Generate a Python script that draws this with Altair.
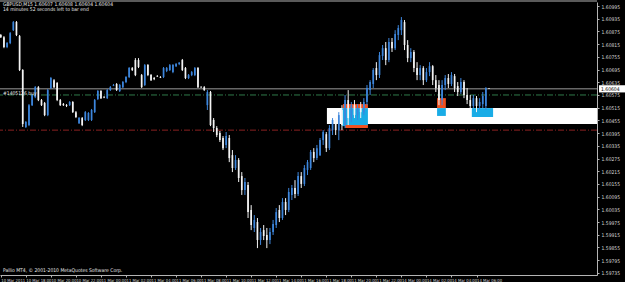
import altair as alt
import pandas as pd

# ---------------- data ----------------
OPEN = [1.60858,1.60848,1.60801,1.60820,1.60881,1.60919,1.60853,1.60693,1.60424,1.60433,
        1.60527,1.60565,1.60612,1.60551,1.60537,1.60480,1.60608,1.60645,1.60631,1.60551,
        1.60532,1.60527,1.60527,1.60542,1.60494,1.60442,1.60466,1.60457,1.60457,1.60457,
        1.60494,1.60556,1.60594,1.60565,1.60560,1.60598,1.60619,1.60627,1.60594,1.60612,
        1.60636,1.60660,1.60702,1.60740,1.60740,1.60669,1.60622,1.60716,1.60669,1.60655,
        1.60664,1.60660,1.60660,1.60688,1.60693,1.60683,1.60711,1.60721,1.60740,1.60702,
        1.60655,1.60669,1.60669,1.60702,1.60612,1.60612,1.60527,1.60589,
        1.60457,1.60419,1.60395,1.60372,1.60339,1.60372,
        1.60291,1.60230,1.60268,1.60192,1.60126,1.60150,1.60032,1.59947,1.59975,1.59890,
        1.59937,1.59914,1.59890,1.59928,1.59961,1.60032,1.59994,1.60070,1.60032,1.60103,
        1.60136,1.60107,1.60192,1.60155,1.60221,1.60230,1.60306,1.60277,
        1.60291,1.60362,1.60390,1.60324,1.60409,1.60457,1.60409,1.60504,1.60433,1.60551,
        1.60466,1.60527,1.60480,1.60513,1.60494,1.60542,1.60598,1.60627,1.60702,1.60669,
        1.60759,1.60796,1.60740,1.60825,1.60796,1.60858,1.60881,1.60919,1.60811,1.60749,
        1.60778,1.60702,1.60669,1.60702,1.60645,1.60683,1.60711,1.60645,1.60622,1.60551,
        1.60622,1.60655,1.60627,1.60664,1.60617,1.60589,1.60636,1.60575,1.60551,1.60523,
        1.60560,1.60523,1.60532,1.60523,
        1.60607]
HIGH = [1.60863,1.60853,1.60825,1.60872,1.60924,1.60924,1.60858,1.60697,1.60452,1.60532,
        1.60579,1.60617,1.60617,1.60556,1.60542,1.60603,1.60660,1.60650,1.60636,1.60556,
        1.60537,1.60532,1.60546,1.60546,1.60499,1.60471,1.60471,1.60499,1.60494,1.60509,
        1.60556,1.60598,1.60598,1.60570,1.60603,1.60617,1.60627,1.60631,1.60627,1.60641,
        1.60664,1.60707,1.60707,1.60749,1.60749,1.60674,1.60721,1.60721,1.60674,1.60660,
        1.60669,1.60664,1.60707,1.60707,1.60721,1.60721,1.60726,1.60730,1.60745,1.60707,
        1.60674,1.60688,1.60707,1.60707,1.60617,1.60617,1.60598,1.60594,
        1.60466,1.60428,1.60405,1.60381,1.60400,1.60386,
        1.60315,1.60291,1.60277,1.60211,1.60183,1.60164,1.60055,1.60008,1.59994,1.59947,
        1.59961,1.59947,1.59947,1.59985,1.60041,1.60055,1.60088,1.60088,1.60136,1.60150,
        1.60173,1.60211,1.60211,1.60244,1.60268,1.60315,1.60324,1.60339,
        1.60372,1.60409,1.60400,1.60433,1.60466,1.60466,1.60494,1.60527,1.60575,1.60598,
        1.60542,1.60551,1.60532,1.60542,1.60560,1.60622,1.60645,1.60702,1.60730,1.60778,
        1.60811,1.60825,1.60844,1.60844,1.60881,1.60905,1.60943,1.60929,1.60834,1.60796,
        1.60787,1.60730,1.60716,1.60711,1.60702,1.60730,1.60716,1.60669,1.60645,1.60645,
        1.60669,1.60674,1.60683,1.60674,1.60636,1.60655,1.60645,1.60608,1.60575,1.60575,
        1.60570,1.60560,1.60589,1.60612,
        1.60608]
LOW = [1.60844,1.60796,1.60796,1.60815,1.60877,1.60853,1.60688,1.60424,1.60419,1.60428,
       1.60523,1.60560,1.60546,1.60523,1.60475,1.60475,1.60603,1.60608,1.60546,1.60523,
       1.60523,1.60518,1.60523,1.60490,1.60466,1.60438,1.60428,1.60452,1.60452,1.60452,
       1.60490,1.60551,1.60556,1.60560,1.60556,1.60594,1.60617,1.60594,1.60589,1.60608,
       1.60631,1.60655,1.60688,1.60664,1.60702,1.60608,1.60617,1.60664,1.60641,1.60645,
       1.60660,1.60655,1.60655,1.60683,1.60688,1.60678,1.60707,1.60716,1.60688,1.60650,
       1.60650,1.60664,1.60664,1.60608,1.60608,1.60594,1.60504,1.60428,
       1.60400,1.60376,1.60353,1.60315,1.60324,1.60258,
       1.60211,1.60221,1.60164,1.60103,1.60103,1.59994,1.59937,1.59928,1.59852,1.59867,
       1.59890,1.59852,1.59871,1.59914,1.59947,1.59975,1.59985,1.60008,1.60022,1.60079,
       1.60088,1.60098,1.60136,1.60145,1.60197,1.60221,1.60258,1.60268,
       1.60287,1.60339,1.60306,1.60315,1.60386,1.60386,1.60362,1.60409,1.60419,1.60433,
       1.60447,1.60466,1.60457,1.60466,1.60480,1.60527,1.60575,1.60608,1.60645,1.60655,
       1.60740,1.60716,1.60730,1.60778,1.60787,1.60834,1.60858,1.60787,1.60730,1.60730,
       1.60683,1.60645,1.60645,1.60622,1.60636,1.60664,1.60622,1.60589,1.60527,1.60527,
       1.60598,1.60608,1.60617,1.60589,1.60570,1.60580,1.60560,1.60532,1.60504,1.60513,
       1.60494,1.60504,1.60513,1.60504,
       1.60604]
CLOSE = [1.60848,1.60801,1.60820,1.60867,1.60919,1.60858,1.60693,1.60438,1.60447,1.60527,
         1.60575,1.60612,1.60551,1.60527,1.60480,1.60598,1.60655,1.60612,1.60551,1.60527,
         1.60527,1.60523,1.60542,1.60494,1.60471,1.60466,1.60433,1.60494,1.60490,1.60504,
         1.60551,1.60594,1.60560,1.60563,1.60598,1.60612,1.60622,1.60598,1.60622,1.60636,
         1.60660,1.60702,1.60693,1.60669,1.60707,1.60612,1.60716,1.60669,1.60645,1.60650,
         1.60662,1.60657,1.60702,1.60702,1.60716,1.60716,1.60721,1.60728,1.60693,1.60655,
         1.60669,1.60683,1.60702,1.60612,1.60610,1.60598,1.60589,1.60433,
         1.60419,1.60386,1.60362,1.60324,1.60381,1.60277,
         1.60230,1.60268,1.60183,1.60126,1.60164,1.60022,1.59961,1.59985,1.59890,1.59928,
         1.59909,1.59890,1.59928,1.59966,1.60022,1.59994,1.60070,1.60032,1.60117,1.60136,
         1.60107,1.60192,1.60155,1.60230,1.60258,1.60306,1.60277,1.60324,
         1.60362,1.60400,1.60324,1.60419,1.60457,1.60409,1.60480,1.60433,1.60551,1.60466,
         1.60527,1.60480,1.60513,1.60494,1.60542,1.60608,1.60636,1.60693,1.60669,1.60763,
         1.60796,1.60740,1.60825,1.60796,1.60863,1.60891,1.60929,1.60811,1.60749,1.60778,
         1.60702,1.60669,1.60702,1.60645,1.60683,1.60711,1.60645,1.60608,1.60551,1.60622,
         1.60655,1.60627,1.60669,1.60608,1.60589,1.60636,1.60575,1.60551,1.60523,1.60560,
         1.60523,1.60542,1.60570,1.60607,
         1.60604]

TIME_LABELS = ["10 Mar 2011", "10 Mar 18:00", "10 Mar 20:00", "10 Mar 22:00",
               "11 Mar 00:00", "11 Mar 02:00", "11 Mar 04:00", "11 Mar 06:00",
               "11 Mar 08:00", "11 Mar 10:00", "11 Mar 12:00", "11 Mar 14:00",
               "11 Mar 16:00", "11 Mar 18:00", "11 Mar 20:00", "11 Mar 22:00",
               "14 Mar 00:00", "14 Mar 02:00", "14 Mar 04:00", "14 Mar 06:00"]
TIME_TICK_BARS = [0, 8, 16, 24, 32, 40, 48, 56, 64, 72, 80, 88, 96, 104, 112, 120,
                  128, 136, 144, 152]
PRICE_TICKS = [1.60995, 1.60935, 1.60875, 1.60815, 1.60755, 1.60695, 1.60635,
               1.60575, 1.60515, 1.60455, 1.60395, 1.60335, 1.60275, 1.60215,
               1.60155, 1.60095, 1.60035, 1.59975, 1.59915, 1.59855, 1.59795, 1.59735]

# drawn zones (bar index / price)
ZONE_X0 = [104.2, 109.0, 109.3, 110.0, 139.4, 139.4, 150.5]
ZONE_X1 = [190.5, 117.3, 117.3, 117.3, 142.2, 142.2, 157.3]
ZONE_TOP = [1.60513, 1.60513, 1.60532, 1.60433, 1.60560, 1.60513, 1.60513]
ZONE_BOT = [1.60438, 1.60428, 1.60513, 1.60419, 1.60513, 1.60476, 1.60471]
ZONE_KIND = ["white", "blue", "orange", "orange", "orange", "blue", "blue"]

BID = 1.60604
LEVEL_GREEN = 1.60575
LEVEL_RED = 1.60409

SYMBOL_LINE = "GBPUSD,M15  1.60607 1.60608 1.60604 1.60604"
TIMER_LINE = "14 minutes 52 seconds left to bar end"
COPYRIGHT = "Pallio MT4, © 2001-2010 MetaQuotes Software Corp."
LINE_LABEL = "#1405126 buy"
LINE_LABEL_PRICE = 1.60586

# ---------------- build ----------------
bars = pd.DataFrame({"i": list(range(len(OPEN))), "o": OPEN, "h": HIGH,
                     "l": LOW, "c": CLOSE})
bars["dir"] = ["up" if c >= o else "down" for o, c in zip(OPEN, CLOSE)]

zones = pd.DataFrame({"x0": ZONE_X0, "x1": ZONE_X1, "top": ZONE_TOP,
                      "bot": ZONE_BOT, "kind": ZONE_KIND})

XS = alt.Scale(domain=[-0.26, 190.5], nice=False, zero=False, padding=0)
YS = alt.Scale(domain=[1.59725, 1.61014], nice=False, zero=False, padding=0)
FONT = "Liberation Sans Narrow, DejaVu Sans Condensed, sans-serif"
AXC = "#b4b4b4"

label_arr = "[" + ",".join("'" + t + "'" for t in TIME_LABELS) + "]"

x_axis = alt.Axis(values=TIME_TICK_BARS, labelExpr=label_arr + "[round(datum.value/8)]",
                  labelAlign="left", labelBaseline="top", labelPadding=1,
                  labelFontSize=4.2, labelFont=FONT, labelColor="#d8d8d8",
                  tickSize=2, tickColor=AXC, domainColor=AXC, labelOverlap=False,
                  labelFlush=False, grid=False, title=None)
y_axis = alt.Axis(orient="right", values=PRICE_TICKS, format=".5f",
                  labelFontSize=5, labelFont=FONT, labelColor="#d8d8d8",
                  labelPadding=2, tickSize=2, tickColor=AXC, domainColor=AXC,
                  labelOverlap=False, grid=False, title=None)


def X(field):
    return alt.X(field, type="quantitative", scale=XS, axis=x_axis)


def Y(field):
    return alt.Y(field, type="quantitative", scale=YS, axis=y_axis)


zone_color = alt.Color("kind:N", legend=None,
                       scale=alt.Scale(domain=["white", "blue", "orange"],
                                       range=["#ffffff", "#19ace6", "#f2511f"]))

white_zone = alt.Chart(zones).transform_filter("datum.kind == 'white'").mark_rect().encode(
    x=X("x0"), x2="x1:Q", y=Y("top"), y2="bot:Q", color=zone_color)
color_zones = alt.Chart(zones).transform_filter("datum.kind != 'white'").mark_rect().encode(
    x=X("x0"), x2="x1:Q", y=Y("top"), y2="bot:Q", color=zone_color)

bar_color = alt.Color("dir:N", legend=None,
                      scale=alt.Scale(domain=["up", "down"], range=["#3d86dc", "#f4f4f4"]))
wicks = alt.Chart(bars).mark_rule(strokeWidth=1).encode(
    x=X("i"), y=Y("h"), y2="l:Q", color=bar_color)
bodies = alt.Chart(bars).mark_bar(size=1.7).encode(
    x=X("i"), y=Y("o"), y2="c:Q", color=bar_color)

lv = pd.DataFrame({"p": [BID, LEVEL_GREEN, LEVEL_RED],
                   "kind": ["bid", "green", "red"]})
bid_line = alt.Chart(lv).transform_filter("datum.kind == 'bid'").mark_rule(
    color="#9a9a9a", strokeWidth=1).encode(y=Y("p"))
green_line = alt.Chart(lv).transform_filter("datum.kind == 'green'").mark_rule(
    color="#2f7a4a", strokeWidth=1, strokeDash=[6, 2, 1, 2]).encode(y=Y("p"))
red_line = alt.Chart(lv).transform_filter("datum.kind == 'red'").mark_rule(
    color="#8a2020", strokeWidth=1, strokeDash=[6, 2, 1, 2]).encode(y=Y("p"))

top_border = alt.Chart(lv).transform_filter("datum.kind == 'bid'").mark_rule(
    color=AXC, strokeWidth=1).encode(x=alt.value(0), x2=alt.value(597), y=alt.value(-1))

txt = pd.DataFrame({"t": [SYMBOL_LINE, TIMER_LINE, COPYRIGHT]})
sym = alt.Chart(txt).transform_filter(alt.datum.t == SYMBOL_LINE).mark_text(
    align="left", baseline="middle", fontSize=5, font=FONT, color="#e8e8e8").encode(
    x=alt.value(3), y=alt.value(2), text="t:N")
timer = alt.Chart(txt).transform_filter(alt.datum.t == TIMER_LINE).mark_text(
    align="left", baseline="middle", fontSize=5, font=FONT, color="#e8e8e8").encode(
    x=alt.value(3), y=alt.value(7), text="t:N")
copy = alt.Chart(txt).transform_filter(alt.datum.t == COPYRIGHT).mark_text(
    align="left", baseline="middle", fontSize=5, font=FONT, color="#e8e8e8").encode(
    x=alt.value(3), y=alt.value(268), text="t:N")

lbl = pd.DataFrame({"p": [BID], "b": [f"{BID:.5f}"]})
ll = pd.DataFrame({"p": [LINE_LABEL_PRICE], "t": [LINE_LABEL]})
line_label = alt.Chart(ll).mark_text(
    align="left", baseline="middle", fontSize=5, font=FONT, color="#e8e8e8").encode(
    x=alt.value(3), y=Y("p"), text="t:N")
price_box = alt.Chart(lbl).transform_calculate(
    p1="datum.p + 0.00017", p2="datum.p - 0.00017").mark_rect(color="#ffffff").encode(
    x=alt.value(599), x2=alt.value(625), y=Y("p1"), y2="p2:Q")
price_txt = alt.Chart(lbl).mark_text(
    align="left", baseline="middle", fontSize=5, font=FONT, color="#000000").encode(
    x=alt.value(601), y=Y("p"), text="b:N")

chart = alt.layer(
    white_zone, color_zones, bid_line, green_line, red_line,
    wicks, bodies, top_border, sym, timer, copy, line_label, price_box, price_txt
).resolve_scale(color="independent").properties(
    width=597, height=273,
    autosize=alt.AutoSizeParams(type="none"),
    padding={"left": 0, "top": 2, "right": 28, "bottom": 7},
    background="#000000",
).configure_view(stroke=None)

chart.save("out.html", embed_options={"renderer": "svg", "actions": False})
